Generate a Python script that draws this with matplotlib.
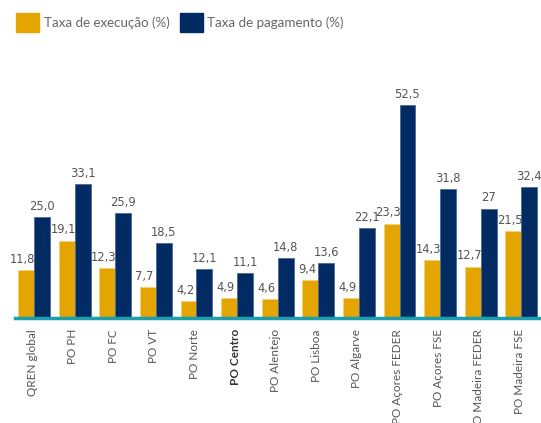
import matplotlib
matplotlib.use("Agg")
import matplotlib.pyplot as plt
import numpy as np
from matplotlib.patches import Patch

categories = ["QREN global", "PO PH", "PO FC", "PO VT", "PO Norte", "PO Centro",
              "PO Alentejo", "PO Lisboa", "PO Algarve", "PO Açores FEDER",
              "PO Açores FSE", "PO Madeira FEDER", "PO Madeira FSE"]
execucao = [11.8, 19.1, 12.3, 7.7, 4.2, 4.9, 4.6, 9.4, 4.9, 23.3, 14.3, 12.7, 21.5]
pagamento = [25.0, 33.1, 25.9, 18.5, 12.1, 11.1, 14.8, 13.6, 22.1, 52.5, 31.8, 27.0, 32.4]
exec_labels = ["11,8", "19,1", "12,3", "7,7", "4,2", "4,9", "4,6", "9,4", "4,9", "23,3", "14,3", "12,7", "21,5"]
pag_labels = ["25,0", "33,1", "25,9", "18,5", "12,1", "11,1", "14,8", "13,6", "22,1", "52,5", "31,8", "27", "32,4"]

YELLOW = "#E5A500"
NAVY = "#022B63"
TEAL = "#1A9FB0"
GREY = "#555555"

plt.rcParams['font.family'] = ['Lato', 'DejaVu Sans']

fig = plt.figure(figsize=(5.41, 4.23), dpi=100)
ax = fig.add_axes([15/541, (423-318)/423, 525/541, 243/423])

x = np.arange(len(categories))
w = 0.39
ax.bar(x - w/2, execucao, w, color=YELLOW, edgecolor="#F3D27A", linewidth=0.6)
ax.bar(x + w/2, pagamento, w, color=NAVY, edgecolor="#4A6A9A", linewidth=0.6)

for xi, v, s in zip(x - w/2, execucao, exec_labels):
    ax.annotate(s, (xi, v), xytext=(-2.5, 3), textcoords="offset points",
                ha="center", va="bottom", fontsize=8.3, color=GREY, family="DejaVu Sans")
for xi, v, s in zip(x + w/2, pagamento, pag_labels):
    ax.annotate(s, (xi, v), xytext=(0, 3), textcoords="offset points",
                ha="center", va="bottom", fontsize=8.3, color=GREY, family="DejaVu Sans")

ax.set_xlim(-0.47, 12.46)
ax.set_ylim(0, 60)
for s in ["top", "right", "left"]:
    ax.spines[s].set_visible(False)
ax.spines["bottom"].set_color(TEAL)
ax.spines["bottom"].set_linewidth(2.5)
ax.set_yticks([])
ax.set_xticks(x - 0.05)
ax.set_xticklabels(categories, rotation=90, fontsize=8.5, color=GREY)
ax.tick_params(axis="x", length=0, pad=8)
for lbl in ax.get_xticklabels():
    if lbl.get_text() == "PO Centro":
        lbl.set_fontweight("bold")
        lbl.set_color("#333333")

handles = [Patch(facecolor=YELLOW, edgecolor=YELLOW), Patch(facecolor=NAVY, edgecolor=NAVY)]
fig.legend(handles, ["Taxa de execução (%)", "Taxa de pagamento (%)"],
           loc="upper left", bbox_to_anchor=(11/541, 1 - 8/423), ncol=2, frameon=False,
           fontsize=9.6, labelcolor="#666666", handlelength=1.7, handleheight=1.75,
           handletextpad=0.35, columnspacing=0.8, borderaxespad=0)

fig.savefig("out.png", dpi=100)
